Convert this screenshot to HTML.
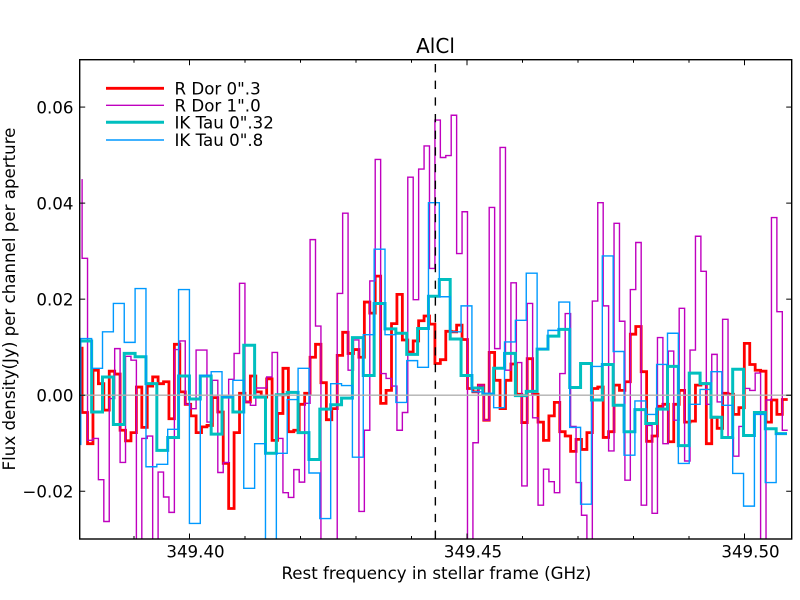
<!DOCTYPE html>
<html lang="en">
<head>
<meta charset="utf-8">
<title>AlCl spectrum</title>
<style>
html,body{margin:0;padding:0;background:#fff;}
svg{display:block;}
text{font-family:"DejaVu Sans","Liberation Sans",sans-serif;fill:#000;}
</style>
</head>
<body>
<svg id="chart" xmlns="http://www.w3.org/2000/svg" width="800" height="600" viewBox="0 0 800 600">
  <defs>
    <clipPath id="plot-clip"><rect x="79.7" y="59.7" width="712" height="479.3"/></clipPath>
  </defs>
  <rect x="0" y="0" width="800" height="600" fill="#ffffff"/>
  <g id="series-layer" clip-path="url(#plot-clip)"></g>
  <g id="ref-layer" clip-path="url(#plot-clip)"></g>
  <rect x="79.7" y="59.7" width="712" height="479.3" fill="none" stroke="#000" stroke-width="1.4"/>
  <g id="tick-layer"></g>
  <text x="435.5" y="52.8" font-size="20" text-anchor="middle">AlCl</text>
  <text x="436.4" y="579" font-size="16.67" text-anchor="middle">Rest frequency in stellar frame (GHz)</text>
  <text transform="translate(15,299) rotate(-90)" font-size="16.67" text-anchor="middle">Flux density(Jy) per channel per aperture</text>
  <g>
    <g>
      <line x1="106" x2="164" y1="88.3" y2="88.3" stroke="#ff0000" stroke-width="2.8"/>
      <text x="174.5" y="94.3" font-size="16.67">R Dor 0".3</text>
    </g>
    <g>
      <line x1="106" x2="164" y1="105.3" y2="105.3" stroke="#bf00bf" stroke-width="1.4"/>
      <text x="174.5" y="111.3" font-size="16.67">R Dor 1".0</text>
    </g>
    <g>
      <line x1="106" x2="164" y1="122.3" y2="122.3" stroke="#00bfbf" stroke-width="3"/>
      <text x="174.5" y="128.3" font-size="16.67">IK Tau 0".32</text>
    </g>
    <g>
      <line x1="106" x2="164" y1="140" y2="140" stroke="#0099ff" stroke-width="1.4"/>
      <text x="174.5" y="146" font-size="16.67">IK Tau 0".8</text>
    </g>
  </g>
</svg>
<script>
var xMajorTicks = [349.40, 349.45, 349.50];
var xMajorLabels = ["349.40", "349.45", "349.50"];
var xMinorTicks = [349.39, 349.41, 349.42, 349.43, 349.44, 349.46, 349.47, 349.48, 349.49];
var yTicks = [0.06, 0.04, 0.02, 0.00, -0.02];
var yTickLabels = ["0.06", "0.04", "0.02", "0.00", "\u22120.02"];
var lineFrequency = 349.4443;

var rDor03Start = 349.38065;
var rDor03Step = 0.000978;
var rDor10Start = 349.38065;
var rDor10Step = 0.000978;
var ikTau032Start = 349.38041;
var ikTau032Step = 0.0019577;
var ikTau08Start = 349.38041;
var ikTau08Step = 0.0019577;

var rDor03 = [0.0101,-0.0036,-0.0101,0.0052,0.0024,-0.0031,0.0050,0.0044,-0.0073,-0.0095,-0.0078,0.0017,-0.0067,0.0019,0.0038,0.0024,0.0028,-0.0049,0.0106,0.0007,-0.0019,-0.0043,-0.0078,-0.0066,-0.0063,-0.0005,-0.0035,-0.0142,-0.0236,-0.0078,0.0004,-0.0014,0.0040,0.0007,-0.0004,0.0034,-0.0094,
-0.0038,0.0056,-0.0076,-0.0073,-0.0019,0.0004,0.0079,0.0106,0.0026,-0.0051,-0.0028,0.0083,0.0131,0.0087,0.0095,0.0079,0.0194,0.0171,0.0248,-0.0017,0.0010,0.0149,0.0210,0.0115,0.0090,0.0113,0.0155,0.0165,0.0148,0.0066,0.0074,0.0133,0.0132,0.0146,0.0116,
0.0014,0.0007,0.0021,-0.0052,0.0089,0.0031,-0.0028,0.0031,0.0065,0.0002,-0.0057,0.0076,0.0002,-0.0056,-0.0094,-0.0043,-0.0015,-0.0076,-0.0085,-0.0117,-0.0092,-0.0113,-0.0078,0.0014,0.0017,-0.0088,-0.0076,0.0021,0.0010,0.0028,0.0127,
0.0143,0.0049,-0.0096,-0.0085,-0.0023,-0.0019,-0.0097,-0.0019,0.0010,-0.0056,-0.0054,0.0021,0.0024,-0.0101,-0.0046,-0.0069,0.0004,0.0002,-0.0040,-0.0026,0.0108,0.0064,0.0052,0.0050,-0.0056,-0.0010,-0.0040,-0.0009];

var rDor10 = [0.0450,0.0285,-0.0094,-0.0090,-0.0176,-0.0263,-0.0007,0.0097,-0.0140,0.0081,0.0073,-0.0344,-0.0090,-0.0085,-0.0344,-0.0160,-0.0212,-0.0244,0.0095,0.0113,-0.0019,-0.0028,0.0094,0.0094,-0.0056,0.0031,-0.0161,-0.0140,0.0033,0.0087,0.0233,-0.0014,-0.0021,0.0015,0.0015,0.0038,0.0089,
-0.0090,-0.0203,-0.0213,-0.0155,-0.0181,-0.0017,0.0324,0.0144,-0.0365,-0.0365,-0.0365,0.0212,0.0379,0.0052,0.0115,-0.0242,-0.0073,0.0238,0.0491,0.0045,0.0035,0.0019,-0.0073,-0.0036,0.0454,0.0199,0.0471,0.0519,0.0264,0.0573,0.0495,0.0499,0.0583,0.0295,0.0382,
-0.0365,-0.0099,0.0021,-0.0052,0.0391,0.0097,0.0516,0.0052,0.0234,0.0068,-0.0189,0.0191,-0.0047,-0.0229,-0.0154,-0.0180,-0.0203,0.0045,0.0170,-0.0065,-0.0182,-0.0250,-0.0365,0.0196,0.0401,0.0186,-0.0116,0.0358,0.0154,-0.0177,0.0220,
0.0318,-0.0229,-0.0063,-0.0246,0.0120,-0.0101,0.0092,-0.0052,0.0181,-0.0137,0.0094,0.0331,0.0258,-0.0019,0.0085,-0.0014,0.0158,-0.0088,-0.0127,-0.0065,0.0014,0.0010,0.0046,-0.0365,-0.0010,0.0370,0.0174,-0.0073];

var ikTau032 = [0.0110,0.0113,-0.0035,0.0038,-0.0061,0.0087,0.0080,0.0024,-0.0115,-0.0088,0.0040,-0.0008,0.0040,-0.0081,-0.0004,-0.0035,0.0104,-0.0004,-0.0121,0.0001,0.0006,-0.0078,-0.0134,-0.0029,-0.0020,-0.0006,0.0120,0.0041,0.0191,0.0138,0.0129,0.0085,0.0139,0.0206,0.0241,0.0117,0.0041,0.0015,0.0002,0.0056,0.0087,-0.0001,0.0008,0.0096,0.0123,0.0137,0.0016,0.0066,-0.0010,0.0064,-0.0021,-0.0076,-0.0030,-0.0059,-0.0029,0.0060,-0.0105,0.0046,0.0024,-0.0046,-0.0088,0.0054,-0.0084,-0.0036,-0.0070,-0.0080];

var ikTau08 = [-0.0104,0.0118,0.0056,0.0132,0.0191,0.0110,0.0222,-0.0149,-0.0144,-0.0071,0.0220,-0.0267,0.0041,0.0049,-0.0004,0.0031,-0.0194,-0.0101,-0.0344,-0.0121,-0.0009,0.0056,-0.0162,-0.0257,0.0024,0.0020,-0.0129,0.0126,0.0304,0.0126,-0.0015,0.0072,0.0058,0.0401,0.0205,0.0132,0.0186,0.0007,0.0004,-0.0026,0.0111,0.0156,0.0254,0.0096,0.0135,0.0194,-0.0067,-0.0227,0.0060,0.0290,0.0091,-0.0125,-0.0012,-0.0040,0.0064,0.0129,-0.0142,-0.0019,0.0012,0.0049,-0.0021,-0.0163,-0.0231,-0.0040,-0.0182,-0.0080];

var NS = 'http://www.w3.org/2000/svg';
function xScale(f) { return 189.5 + (f - 349.40) * 5550; }
function yScale(v) { return 395.2 - v * 4802; }

function stepPath(values, start, step) {
  var d = 'M' + xScale(start).toFixed(2) + ' ' + yScale(values[0]).toFixed(2);
  for (var i = 1; i < values.length; i++) {
    d += 'V' + yScale(values[i]).toFixed(2);
    d += 'H' + xScale(start + i * step).toFixed(2);
  }
  return d;
}

var seriesLayer = document.getElementById('series-layer');
var refLayer = document.getElementById('ref-layer');
var tickLayer = document.getElementById('tick-layer');

function drawSeries(name, values, start, step, color, width) {
  var p = document.createElementNS(NS, 'path');
  
  
  p.setAttribute('d', stepPath(values, start, step));
  p.setAttribute('fill', 'none');
  p.setAttribute('stroke', color);
  p.setAttribute('stroke-width', width);
  p.setAttribute('stroke-linejoin', 'miter');
  seriesLayer.appendChild(p);
}

drawSeries('series-r-dor-0-3', rDor03, rDor03Start, rDor03Step, '#ff0000', 2.8);
drawSeries('series-r-dor-1-0', rDor10, rDor10Start, rDor10Step, '#bf00bf', 1.4);
drawSeries('series-ik-tau-0-32', ikTau032, ikTau032Start, ikTau032Step, '#00bfbf', 3);
drawSeries('series-ik-tau-0-8', ikTau08, ikTau08Start, ikTau08Step, '#0099ff', 1.4);

var zeroLine = document.createElementNS(NS, 'line');


zeroLine.setAttribute('x1', 80);
zeroLine.setAttribute('x2', 792);
zeroLine.setAttribute('y1', yScale(0));
zeroLine.setAttribute('y2', yScale(0));
zeroLine.setAttribute('stroke', '#b0b0b0');
zeroLine.setAttribute('stroke-width', 1.4);
refLayer.appendChild(zeroLine);

var restLine = document.createElementNS(NS, 'line');


restLine.setAttribute('x1', xScale(lineFrequency));
restLine.setAttribute('x2', xScale(lineFrequency));
restLine.setAttribute('y1', 64);
restLine.setAttribute('y2', 539);
restLine.setAttribute('stroke', '#000');
restLine.setAttribute('stroke-width', 1.4);
restLine.setAttribute('stroke-dasharray', '8.33 8.33');
refLayer.appendChild(restLine);

function tick(name, x1, y1, x2, y2) {
  var t = document.createElementNS(NS, 'line');
  
  
  t.setAttribute('x1', x1);
  t.setAttribute('y1', y1);
  t.setAttribute('x2', x2);
  t.setAttribute('y2', y2);
  t.setAttribute('stroke', '#000');
  t.setAttribute('stroke-width', 1);
  tickLayer.appendChild(t);
}

function label(name, str, x, y, anchor) {
  var t = document.createElementNS(NS, 'text');
  
  
  t.setAttribute('x', x);
  t.setAttribute('y', y);
  t.setAttribute('font-size', '16.67');
  t.setAttribute('text-anchor', anchor);
  t.textContent = str;
  tickLayer.appendChild(t);
}

xMajorTicks.forEach(function (f, i) {
  var x = xScale(f);
  tick('x-major-tick-bottom', x, 539, x, 533.5);
  tick('x-major-tick-top', x, 59.7, x, 65.2);
  label('x-tick-label', xMajorLabels[i], x + 6, 557.7, 'middle');
});
xMinorTicks.forEach(function (f) {
  var x = xScale(f);
  tick('x-minor-tick-bottom', x, 539, x, 536);
  tick('x-minor-tick-top', x, 59.7, x, 62.7);
});
yTicks.forEach(function (v, i) {
  var y = yScale(v);
  tick('y-tick-left', 79.7, y, 85.2, y);
  tick('y-tick-right', 791.7, y, 786.2, y);
  label('y-tick-label', yTickLabels[i], 73.5, y + 6.2, 'end');
});
</script>
</body>
</html>
